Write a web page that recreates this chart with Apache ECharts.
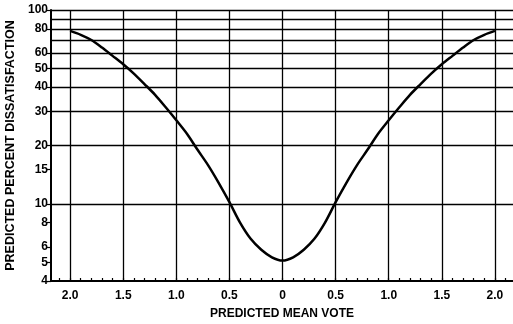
<!DOCTYPE html>
<html>
<head>
<meta charset="utf-8">
<script src="https://cdn.jsdelivr.net/npm/echarts@6/dist/echarts.min.js"></script>
<style>
  html, body { margin: 0; padding: 0; background: #fff; }
  #chart { width: 513px; height: 324px; }
</style>
</head>
<body>
<div id="chart"></div>
<script>
// PMV / PPD curve
const pmv = [-2.0, -1.9, -1.8, -1.7, -1.6, -1.5, -1.4, -1.3, -1.2, -1.1, -1.0,
             -0.9, -0.8, -0.7, -0.6, -0.5, -0.4, -0.3, -0.2, -0.1, 0,
             0.1, 0.2, 0.3, 0.4, 0.5, 0.6, 0.7, 0.8, 0.9, 1.0,
             1.1, 1.2, 1.3, 1.4, 1.5, 1.6, 1.7, 1.8, 1.9, 2.0];
const ppd = [78, 74.5, 70, 64, 58, 52.5, 47, 41.5, 36.5, 31.5, 27,
             23, 19, 15.8, 12.8, 10.2, 8.0, 6.6, 5.8, 5.3, 5.1,
             5.3, 5.8, 6.6, 8.0, 10.2, 12.8, 15.8, 19, 23, 27,
             31.5, 36.5, 41.5, 47, 52.5, 58, 64, 70, 74.5, 78];

const xLabelValues = [-2, -1.5, -1, -0.5, 0, 0.5, 1, 1.5, 2];
const xMinorTicks = [-2.1, -2, -1.9, -1.8, -1.7, -1.6, -1.5, -1.4, -1.3, -1.2, -1.1, -1,
                     -0.9, -0.8, -0.7, -0.6, -0.5, -0.4, -0.3, -0.2, -0.1, 0,
                     0.1, 0.2, 0.3, 0.4, 0.5, 0.6, 0.7, 0.8, 0.9, 1,
                     1.1, 1.2, 1.3, 1.4, 1.5, 1.6, 1.7, 1.8, 1.9, 2, 2.1];
const yLabelValues = [4, 5, 6, 8, 10, 15, 20, 30, 40, 50, 60, 80, 100];
const yGridValues = [10, 20, 30, 40, 50, 60, 70, 80, 90, 100];

const FONT = '"Liberation Sans", Arial, sans-serif';

const chart = echarts.init(document.getElementById('chart'));
chart.setOption({
  animation: false,
  grid: { left: 51, right: 0, top: 10, bottom: 43, outerBoundsMode: 'none' },
  xAxis: {
    type: 'value',
    min: -2.18,
    max: 2.17,
    name: 'PREDICTED MEAN VOTE',
    nameLocation: 'middle',
    nameGap: 27,
    nameTextStyle: { color: '#000', fontFamily: FONT, fontWeight: 'bold', fontSize: 12 },
    axisLine: { show: true, onZero: false, lineStyle: { color: '#000', width: 2 } },
    axisTick: { show: true, inside: true, length: 3, customValues: xMinorTicks,
                lineStyle: { color: '#000', width: 1.2 } },
    axisLabel: {
      customValues: xLabelValues,
      margin: 9,
      color: '#000', fontFamily: FONT, fontWeight: 'bold', fontSize: 12,
      formatter: function (v) { return v === 0 ? '0' : Math.abs(v).toFixed(1); }
    },
    splitLine: { show: false }
  },
  yAxis: {
    type: 'log',
    logBase: 10,
    min: 4,
    max: 100,
    name: 'PREDICTED PERCENT DISSATISFACTION',
    nameLocation: 'middle',
    nameGap: 27,
    nameRotate: 90,
    nameTextStyle: { color: '#000', fontFamily: FONT, fontWeight: 'bold', fontSize: 12.5 },
    axisLine: { show: true, onZero: false, lineStyle: { color: '#000', width: 2 } },
    axisTick: { show: true, length: 4, customValues: yLabelValues,
                lineStyle: { color: '#000', width: 1.2 } },
    axisLabel: {
      customValues: yLabelValues,
      margin: 3,
      color: '#000', fontFamily: FONT, fontWeight: 'bold', fontSize: 12
    },
    splitLine: { show: false }
  },
  series: [{
    type: 'line',
    data: pmv.map(function (x, i) { return [x, ppd[i]]; }),
    smooth: 0.3,
    showSymbol: false,
    lineStyle: { color: '#000', width: 2.5 },
    markLine: {
      silent: true,
      symbol: 'none',
      label: { show: false },
      lineStyle: { color: '#000', width: 1.3, type: 'solid' },
      data: xLabelValues.map(function (v) { return { xAxis: v }; })
        .concat(yGridValues.map(function (v) { return { yAxis: v }; }))
    }
  }]
});
</script>
</body>
</html>
